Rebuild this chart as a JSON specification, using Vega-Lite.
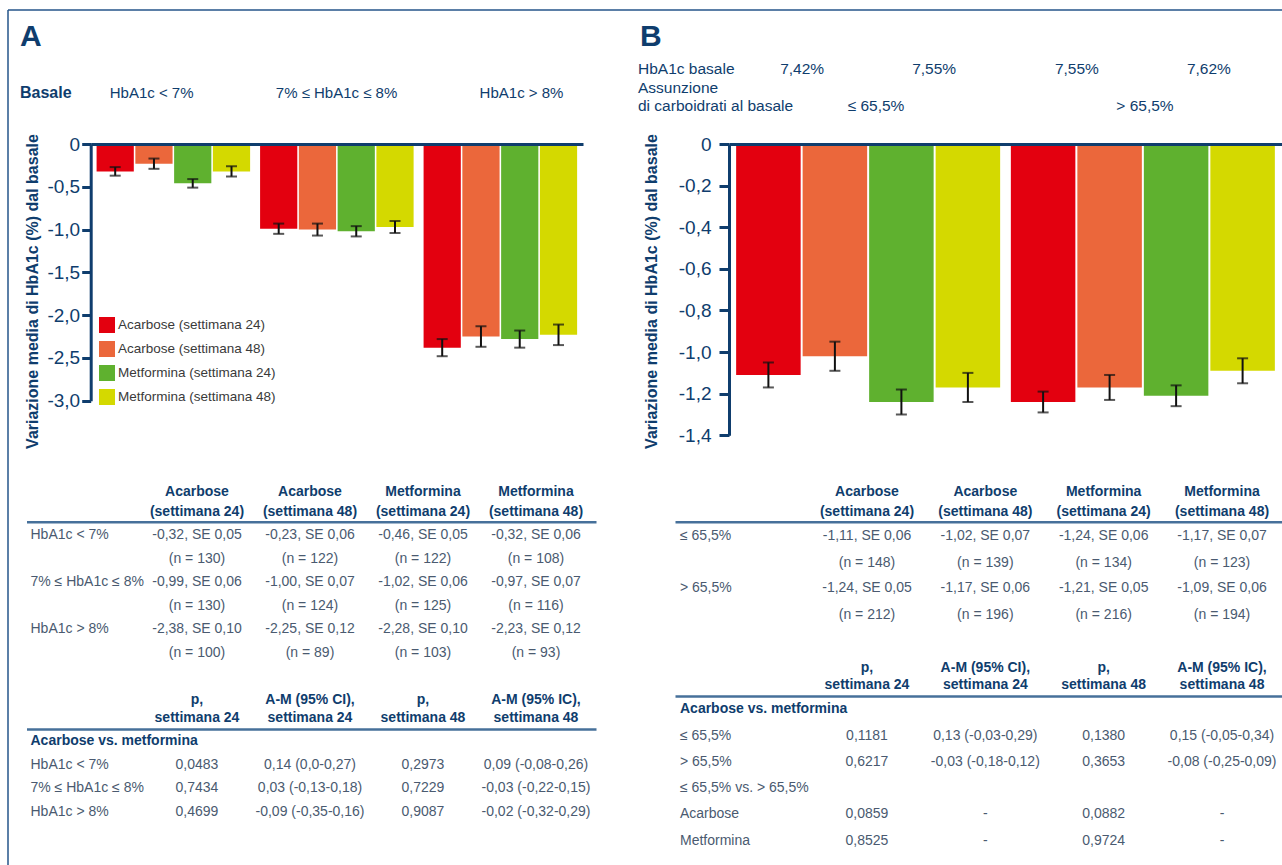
{
  "$schema": "https://vega.github.io/schema/vega-lite/v6.json",
  "width": 1274,
  "height": 855,
  "autosize": {"type": "none"},
  "padding": {"left": 8, "top": 10, "right": 0, "bottom": 0},
  "background": "#ffffff",
  "config": {
    "font": "Liberation Sans, Arial, sans-serif",
    "view": {"stroke": null},
    "text": {"font": "Liberation Sans, Arial, sans-serif", "fontSize": 14, "baseline": "middle"},
    "axis": {"labelFont": "Liberation Sans, Arial, sans-serif", "titleFont": "Liberation Sans, Arial, sans-serif"},
    "legend": {"labelFont": "Liberation Sans, Arial, sans-serif", "titleFont": "Liberation Sans, Arial, sans-serif"}
  },
  "datasets": {
    "barreA": [
      {"fascia": "HbA1c < 7%", "trattamento": "Acarbose (settimana 24)", "media": -0.32, "se": 0.05, "n": 130},
      {"fascia": "HbA1c < 7%", "trattamento": "Acarbose (settimana 48)", "media": -0.23, "se": 0.06, "n": 122},
      {"fascia": "HbA1c < 7%", "trattamento": "Metformina (settimana 24)", "media": -0.46, "se": 0.05, "n": 122},
      {"fascia": "HbA1c < 7%", "trattamento": "Metformina (settimana 48)", "media": -0.32, "se": 0.06, "n": 108},
      {"fascia": "7% ≤ HbA1c ≤ 8%", "trattamento": "Acarbose (settimana 24)", "media": -0.99, "se": 0.06, "n": 130},
      {"fascia": "7% ≤ HbA1c ≤ 8%", "trattamento": "Acarbose (settimana 48)", "media": -1.0, "se": 0.07, "n": 124},
      {"fascia": "7% ≤ HbA1c ≤ 8%", "trattamento": "Metformina (settimana 24)", "media": -1.02, "se": 0.06, "n": 125},
      {"fascia": "7% ≤ HbA1c ≤ 8%", "trattamento": "Metformina (settimana 48)", "media": -0.97, "se": 0.07, "n": 116},
      {"fascia": "HbA1c > 8%", "trattamento": "Acarbose (settimana 24)", "media": -2.38, "se": 0.1, "n": 100},
      {"fascia": "HbA1c > 8%", "trattamento": "Acarbose (settimana 48)", "media": -2.25, "se": 0.12, "n": 89},
      {"fascia": "HbA1c > 8%", "trattamento": "Metformina (settimana 24)", "media": -2.28, "se": 0.1, "n": 103},
      {"fascia": "HbA1c > 8%", "trattamento": "Metformina (settimana 48)", "media": -2.23, "se": 0.12, "n": 93}
    ],
    "barreB": [
      {"carboidrati": "≤ 65,5%", "trattamento": "Acarbose (settimana 24)", "media": -1.11, "se": 0.06, "n": 148},
      {"carboidrati": "≤ 65,5%", "trattamento": "Acarbose (settimana 48)", "media": -1.02, "se": 0.07, "n": 139},
      {"carboidrati": "≤ 65,5%", "trattamento": "Metformina (settimana 24)", "media": -1.24, "se": 0.06, "n": 134},
      {"carboidrati": "≤ 65,5%", "trattamento": "Metformina (settimana 48)", "media": -1.17, "se": 0.07, "n": 123},
      {"carboidrati": "> 65,5%", "trattamento": "Acarbose (settimana 24)", "media": -1.24, "se": 0.05, "n": 212},
      {"carboidrati": "> 65,5%", "trattamento": "Acarbose (settimana 48)", "media": -1.17, "se": 0.06, "n": 196},
      {"carboidrati": "> 65,5%", "trattamento": "Metformina (settimana 24)", "media": -1.21, "se": 0.05, "n": 216},
      {"carboidrati": "> 65,5%", "trattamento": "Metformina (settimana 48)", "media": -1.09, "se": 0.06, "n": 194}
    ],
    "basaleB": [
      {"carboidrati": "≤ 65,5%", "farmaco": "Acarbose", "testo": "7,42%"},
      {"carboidrati": "≤ 65,5%", "farmaco": "Metformina", "testo": "7,55%"},
      {"carboidrati": "> 65,5%", "farmaco": "Acarbose", "testo": "7,55%"},
      {"carboidrati": "> 65,5%", "farmaco": "Metformina", "testo": "7,62%"}
    ],
    "colonneTrattamenti": [
      {"colonna": "Acarbose (settimana 24)", "linea": "1", "testo": "Acarbose"},
      {"colonna": "Acarbose (settimana 24)", "linea": "2", "testo": "(settimana 24)"},
      {"colonna": "Acarbose (settimana 48)", "linea": "1", "testo": "Acarbose"},
      {"colonna": "Acarbose (settimana 48)", "linea": "2", "testo": "(settimana 48)"},
      {"colonna": "Metformina (settimana 24)", "linea": "1", "testo": "Metformina"},
      {"colonna": "Metformina (settimana 24)", "linea": "2", "testo": "(settimana 24)"},
      {"colonna": "Metformina (settimana 48)", "linea": "1", "testo": "Metformina"},
      {"colonna": "Metformina (settimana 48)", "linea": "2", "testo": "(settimana 48)"}
    ],
    "colonneConfronto": [
      {"colonna": "p, settimana 24", "linea": "1", "testo": "p,"},
      {"colonna": "p, settimana 24", "linea": "2", "testo": "settimana 24"},
      {"colonna": "A-M (95% CI), settimana 24", "linea": "1", "testo": "A-M (95% CI),"},
      {"colonna": "A-M (95% CI), settimana 24", "linea": "2", "testo": "settimana 24"},
      {"colonna": "p, settimana 48", "linea": "1", "testo": "p,"},
      {"colonna": "p, settimana 48", "linea": "2", "testo": "settimana 48"},
      {"colonna": "A-M (95% IC), settimana 48", "linea": "1", "testo": "A-M (95% IC),"},
      {"colonna": "A-M (95% IC), settimana 48", "linea": "2", "testo": "settimana 48"}
    ],
    "confrontoA": [
      {"riga": "HbA1c < 7%", "colonna": "p, settimana 24", "testo": "0,0483"},
      {"riga": "HbA1c < 7%", "colonna": "A-M (95% CI), settimana 24", "testo": "0,14 (0,0-0,27)"},
      {"riga": "HbA1c < 7%", "colonna": "p, settimana 48", "testo": "0,2973"},
      {"riga": "HbA1c < 7%", "colonna": "A-M (95% IC), settimana 48", "testo": "0,09 (-0,08-0,26)"},
      {"riga": "7% ≤ HbA1c ≤ 8%", "colonna": "p, settimana 24", "testo": "0,7434"},
      {"riga": "7% ≤ HbA1c ≤ 8%", "colonna": "A-M (95% CI), settimana 24", "testo": "0,03 (-0,13-0,18)"},
      {"riga": "7% ≤ HbA1c ≤ 8%", "colonna": "p, settimana 48", "testo": "0,7229"},
      {"riga": "7% ≤ HbA1c ≤ 8%", "colonna": "A-M (95% IC), settimana 48", "testo": "-0,03 (-0,22-0,15)"},
      {"riga": "HbA1c > 8%", "colonna": "p, settimana 24", "testo": "0,4699"},
      {"riga": "HbA1c > 8%", "colonna": "A-M (95% CI), settimana 24", "testo": "-0,09 (-0,35-0,16)"},
      {"riga": "HbA1c > 8%", "colonna": "p, settimana 48", "testo": "0,9087"},
      {"riga": "HbA1c > 8%", "colonna": "A-M (95% IC), settimana 48", "testo": "-0,02 (-0,32-0,29)"}
    ],
    "confrontoB": [
      {"riga": "≤ 65,5%", "colonna": "p, settimana 24", "testo": "0,1181"},
      {"riga": "≤ 65,5%", "colonna": "A-M (95% CI), settimana 24", "testo": "0,13 (-0,03-0,29)"},
      {"riga": "≤ 65,5%", "colonna": "p, settimana 48", "testo": "0,1380"},
      {"riga": "≤ 65,5%", "colonna": "A-M (95% IC), settimana 48", "testo": "0,15 (-0,05-0,34)"},
      {"riga": "> 65,5%", "colonna": "p, settimana 24", "testo": "0,6217"},
      {"riga": "> 65,5%", "colonna": "A-M (95% CI), settimana 24", "testo": "-0,03 (-0,18-0,12)"},
      {"riga": "> 65,5%", "colonna": "p, settimana 48", "testo": "0,3653"},
      {"riga": "> 65,5%", "colonna": "A-M (95% IC), settimana 48", "testo": "-0,08 (-0,25-0,09)"},
      {"riga": "Acarbose", "colonna": "p, settimana 24", "testo": "0,0859"},
      {"riga": "Acarbose", "colonna": "A-M (95% CI), settimana 24", "testo": "-"},
      {"riga": "Acarbose", "colonna": "p, settimana 48", "testo": "0,0882"},
      {"riga": "Acarbose", "colonna": "A-M (95% IC), settimana 48", "testo": "-"},
      {"riga": "Metformina", "colonna": "p, settimana 24", "testo": "0,8525"},
      {"riga": "Metformina", "colonna": "A-M (95% CI), settimana 24", "testo": "-"},
      {"riga": "Metformina", "colonna": "p, settimana 48", "testo": "0,9724"},
      {"riga": "Metformina", "colonna": "A-M (95% IC), settimana 48", "testo": "-"}
    ]
  },
  "resolve": {
    "scale": {"x": "independent", "y": "independent", "xOffset": "independent", "color": "independent"},
    "axis": {"x": "independent", "y": "independent"},
    "legend": {"color": "independent"}
  },
  "layer": [
    {
      "data": {"values": [{"cornice": "figura"}]},
      "encoding": {
        "x": {"datum": 0, "type": "quantitative", "scale": {"domain": [0, 1], "range": [0, 1274]}, "axis": null},
        "y": {"datum": 0, "type": "quantitative", "scale": {"domain": [0, 1], "range": [0, 855]}, "axis": null}
      },
      "layer": [
        {"mark": {"type": "rule", "color": "#24558a", "strokeWidth": 1.5}, "encoding": {"x2": {"datum": 1}}},
        {"mark": {"type": "rule", "color": "#24558a", "strokeWidth": 1.5}, "encoding": {"y2": {"datum": 1}}}
      ]
    },
    {
      "data": {"values": [{"pannello": "A"}, {"pannello": "B"}]},
      "mark": {"type": "text", "fontSize": 30, "fontWeight": "bold", "color": "#0f3d6d", "align": "left"},
      "encoding": {
        "x": {"field": "pannello", "type": "nominal", "scale": {"type": "point", "domain": ["A", "B"], "range": [12, 632], "padding": 0}, "axis": null},
        "y": {"field": "pannello", "type": "nominal", "scale": {"type": "point", "range": [27, 27], "padding": 0}, "axis": null},
        "text": {"field": "pannello"}
      }
    },
    {
      "data": {"values": [{"voce": "Basale"}]},
      "mark": {"type": "text", "fontSize": 16, "fontWeight": "bold", "color": "#0f3d6d", "align": "left"},
      "encoding": {
        "x": {"field": "voce", "type": "nominal", "scale": {"type": "point", "range": [12, 12], "padding": 0}, "axis": null},
        "y": {"field": "voce", "type": "nominal", "scale": {"type": "point", "range": [82.7, 82.7], "padding": 0}, "axis": null},
        "text": {"field": "voce"}
      }
    },
    {
      "data": {"values": [{"fascia": "HbA1c < 7%"}, {"fascia": "7% ≤ HbA1c ≤ 8%"}, {"fascia": "HbA1c > 8%"}]},
      "mark": {"type": "text", "fontSize": 15, "color": "#0f3d6d"},
      "encoding": {
        "x": {"field": "fascia", "type": "nominal", "scale": {"type": "point", "domain": ["HbA1c < 7%", "7% ≤ HbA1c ≤ 8%", "HbA1c > 8%"], "range": [143.6, 513.5], "padding": 0}, "axis": null},
        "y": {"field": "fascia", "type": "nominal", "scale": {"type": "point", "range": [82.7, 82.7], "padding": 0}, "axis": null},
        "text": {"field": "fascia"}
      }
    },
    {
      "data": {"values": [{"voce": "HbA1c basale"}, {"voce": "Assunzione"}, {"voce": "di carboidrati al basale"}]},
      "mark": {"type": "text", "fontSize": 15.5, "color": "#0f3d6d", "align": "left"},
      "encoding": {
        "x": {"field": "voce", "type": "nominal", "scale": {"type": "point", "range": [630, 630], "padding": 0}, "axis": null},
        "y": {"field": "voce", "type": "nominal", "scale": {"type": "point", "domain": ["HbA1c basale", "Assunzione", "di carboidrati al basale"], "range": [59.3, 96], "padding": 0}, "axis": null},
        "text": {"field": "voce"}
      }
    },
    {
      "data": {"name": "basaleB"},
      "mark": {"type": "text", "fontSize": 15.5, "color": "#0f3d6d"},
      "encoding": {
        "x": {"field": "carboidrati", "type": "nominal", "scale": {"type": "band", "domain": ["≤ 65,5%", "> 65,5%"], "range": [721, 1274], "paddingInner": 0.039, "paddingOuter": 0.026}, "axis": null},
        "xOffset": {"field": "farmaco", "type": "nominal", "scale": {"domain": ["Acarbose", "Metformina"], "paddingInner": 0}},
        "y": {"field": "carboidrati", "type": "nominal", "scale": {"type": "point", "range": [59.3, 59.3], "padding": 0}, "axis": null},
        "text": {"field": "testo"}
      }
    },
    {
      "data": {"values": [{"carboidrati": "≤ 65,5%"}, {"carboidrati": "> 65,5%"}]},
      "mark": {"type": "text", "fontSize": 15.5, "color": "#0f3d6d"},
      "encoding": {
        "x": {"field": "carboidrati", "type": "nominal", "scale": {"type": "point", "domain": ["≤ 65,5%", "> 65,5%"], "range": [868, 1137], "padding": 0}, "axis": null},
        "y": {"field": "carboidrati", "type": "nominal", "scale": {"type": "point", "range": [96, 96], "padding": 0}, "axis": null},
        "text": {"field": "carboidrati"}
      }
    },
    {
      "data": {"name": "barreA"},
      "encoding": {
        "x": {
          "field": "fascia", "type": "nominal",
          "scale": {"type": "band", "domain": ["HbA1c < 7%", "7% ≤ HbA1c ≤ 8%", "HbA1c > 8%"], "range": [82.7, 575], "paddingInner": 0.061, "paddingOuter": 0.036},
          "axis": {"orient": "top", "offset": -134, "labels": false, "ticks": false, "title": null, "grid": false, "domainColor": "#0f3d6d", "domainWidth": 3, "zindex": 1}
        },
        "xOffset": {"field": "trattamento", "type": "nominal", "scale": {"domain": ["Acarbose (settimana 24)", "Acarbose (settimana 48)", "Metformina (settimana 24)", "Metformina (settimana 48)"], "paddingInner": 0.04}},
        "y": {
          "field": "media", "type": "quantitative",
          "scale": {"domain": [-3, 0], "range": [390.7, 134], "nice": false, "zero": false},
          "axis": {
            "orient": "left", "offset": -82.7, "values": [0, -0.5, -1, -1.5, -2, -2.5, -3],
            "labelExpr": "datum.value == 0 ? '0' : replace(replace(format(datum.value, '.1f'), '.', ','), '−', '-')",
            "labelFontSize": 19, "labelColor": "#0f3d6d", "labelPadding": 2,
            "tickSize": 9, "tickWidth": 3, "tickColor": "#0f3d6d",
            "domainColor": "#0f3d6d", "domainWidth": 3, "grid": false, "zindex": 1,
            "title": "Variazione media di HbA1c (%) dal basale",
            "titleFontSize": 16, "titleFontWeight": "bold", "titleColor": "#0f3d6d",
            "titleAngle": -90, "titleBaseline": "bottom", "titleAlign": "center",
            "titleX": -50, "titleY": 281
          }
        }
      },
      "layer": [
        {
          "mark": {"type": "bar"},
          "encoding": {
            "color": {
              "field": "trattamento", "type": "nominal",
              "scale": {"domain": ["Acarbose (settimana 24)", "Acarbose (settimana 48)", "Metformina (settimana 24)", "Metformina (settimana 48)"], "range": ["#e3000f", "#eb673b", "#5fb12f", "#d4d900"]},
              "legend": {
                "orient": "none", "legendX": 91, "legendY": 307, "title": null,
                "symbolType": "square", "symbolSize": 256, "symbolStrokeWidth": 0,
                "labelFontSize": 13.5, "labelColor": "#3a3a3a", "labelOffset": 3, "labelLimit": 300,
                "rowPadding": 8, "padding": 0
              }
            }
          }
        },
        {
          "mark": {"type": "errorbar", "ticks": true, "size": 11, "thickness": 2, "color": "#111111"},
          "encoding": {"yError": {"field": "se"}}
        }
      ]
    },
    {
      "data": {"name": "barreB"},
      "encoding": {
        "x": {
          "field": "carboidrati", "type": "nominal",
          "scale": {"type": "band", "domain": ["≤ 65,5%", "> 65,5%"], "range": [721, 1274], "paddingInner": 0.039, "paddingOuter": 0.026},
          "axis": {"orient": "top", "offset": -134, "labels": false, "ticks": false, "title": null, "grid": false, "domainColor": "#0f3d6d", "domainWidth": 3, "zindex": 1}
        },
        "xOffset": {"field": "trattamento", "type": "nominal", "scale": {"domain": ["Acarbose (settimana 24)", "Acarbose (settimana 48)", "Metformina (settimana 24)", "Metformina (settimana 48)"], "paddingInner": 0.03}},
        "y": {
          "field": "media", "type": "quantitative",
          "scale": {"domain": [-1.4, 0], "range": [425.3, 134], "nice": false, "zero": false},
          "axis": {
            "orient": "left", "offset": -721, "values": [0, -0.2, -0.4, -0.6, -0.8, -1, -1.2, -1.4],
            "labelExpr": "datum.value == 0 ? '0' : replace(replace(format(datum.value, '.1f'), '.', ','), '−', '-')",
            "labelFontSize": 19, "labelColor": "#0f3d6d", "labelPadding": 8,
            "tickSize": 10, "tickWidth": 3, "tickColor": "#0f3d6d",
            "domainColor": "#0f3d6d", "domainWidth": 3, "grid": false, "zindex": 1,
            "title": "Variazione media di HbA1c (%) dal basale",
            "titleFontSize": 16, "titleFontWeight": "bold", "titleColor": "#0f3d6d",
            "titleAngle": -90, "titleBaseline": "bottom", "titleAlign": "center",
            "titleX": -70, "titleY": 281
          }
        }
      },
      "layer": [
        {
          "mark": {"type": "bar"},
          "encoding": {
            "color": {
              "field": "trattamento", "type": "nominal",
              "scale": {"domain": ["Acarbose (settimana 24)", "Acarbose (settimana 48)", "Metformina (settimana 24)", "Metformina (settimana 48)"], "range": ["#e3000f", "#eb673b", "#5fb12f", "#d4d900"]},
              "legend": null
            }
          }
        },
        {
          "mark": {"type": "errorbar", "ticks": true, "size": 11, "thickness": 2, "color": "#111111"},
          "encoding": {"yError": {"field": "se"}}
        }
      ]
    },
    {
      "data": {"name": "colonneTrattamenti"},
      "mark": {"type": "text", "fontWeight": "bold", "color": "#0f3d6d"},
      "encoding": {
        "x": {
          "field": "colonna", "type": "nominal",
          "scale": {"type": "band", "domain": ["voce", "Acarbose (settimana 24)", "Acarbose (settimana 48)", "Metformina (settimana 24)", "Metformina (settimana 48)"], "range": [18.5, 588], "paddingInner": 0, "paddingOuter": 0.02, "align": 0.22},
          "axis": {"orient": "top", "offset": -511.7, "labels": false, "ticks": false, "title": null, "grid": false, "domainColor": "#46709a", "domainWidth": 2.5}
        },
        "y": {"field": "linea", "type": "nominal", "scale": {"type": "point", "domain": ["1", "2"], "range": [481.7, 501.7], "padding": 0}, "axis": null},
        "text": {"field": "testo"}
      }
    },
    {
      "data": {"name": "barreA"},
      "transform": [
        {"calculate": "replace(replace(format(datum.media, '.2f'), '.', ','), '−', '-') + ', SE ' + replace(format(datum.se, '.2f'), '.', ',')", "as": "valore"},
        {"calculate": "'(n = ' + datum.n + ')'", "as": "numerosita"}
      ],
      "encoding": {
        "x": {
          "field": "trattamento", "type": "nominal",
          "scale": {"type": "band", "domain": ["voce", "Acarbose (settimana 24)", "Acarbose (settimana 48)", "Metformina (settimana 24)", "Metformina (settimana 48)"], "range": [18.5, 588], "paddingInner": 0, "paddingOuter": 0.02, "align": 0.22},
          "axis": null
        },
        "y": {"field": "fascia", "type": "nominal", "scale": {"type": "point", "domain": ["HbA1c < 7%", "7% ≤ HbA1c ≤ 8%", "HbA1c > 8%"], "range": [525, 619.3], "padding": 0}, "axis": null}
      },
      "layer": [
        {"mark": {"type": "text", "color": "#4a5a70"}, "encoding": {"text": {"field": "valore"}}},
        {"mark": {"type": "text", "color": "#4a5a70", "dy": 24}, "encoding": {"text": {"field": "numerosita"}}},
        {
          "data": {"values": [{"fascia": "HbA1c < 7%"}, {"fascia": "7% ≤ HbA1c ≤ 8%"}, {"fascia": "HbA1c > 8%"}]},
          "mark": {"type": "text", "color": "#4a5a70", "align": "left", "dx": 3},
          "encoding": {"x": {"datum": "voce", "type": "nominal", "bandPosition": 0}, "text": {"field": "fascia"}}
        }
      ]
    },
    {
      "data": {"name": "colonneConfronto"},
      "mark": {"type": "text", "fontWeight": "bold", "color": "#0f3d6d"},
      "encoding": {
        "x": {
          "field": "colonna", "type": "nominal",
          "scale": {"type": "band", "domain": ["voce", "p, settimana 24", "A-M (95% CI), settimana 24", "p, settimana 48", "A-M (95% IC), settimana 48"], "range": [18.5, 588], "paddingInner": 0, "paddingOuter": 0.02, "align": 0.22},
          "axis": {"orient": "top", "offset": -719, "labels": false, "ticks": false, "title": null, "grid": false, "domainColor": "#46709a", "domainWidth": 2.5}
        },
        "y": {"field": "linea", "type": "nominal", "scale": {"type": "point", "domain": ["1", "2"], "range": [690, 708], "padding": 0}, "axis": null},
        "text": {"field": "testo"}
      }
    },
    {
      "data": {"name": "confrontoA"},
      "encoding": {
        "x": {
          "field": "colonna", "type": "nominal",
          "scale": {"type": "band", "domain": ["voce", "p, settimana 24", "A-M (95% CI), settimana 24", "p, settimana 48", "A-M (95% IC), settimana 48"], "range": [18.5, 588], "paddingInner": 0, "paddingOuter": 0.02, "align": 0.22},
          "axis": null
        },
        "y": {"field": "riga", "type": "nominal", "scale": {"type": "point", "domain": ["Acarbose vs. metformina", "HbA1c < 7%", "7% ≤ HbA1c ≤ 8%", "HbA1c > 8%"], "range": [731, 801.7], "padding": 0}, "axis": null}
      },
      "layer": [
        {"mark": {"type": "text", "color": "#4a5a70"}, "encoding": {"text": {"field": "testo"}}},
        {
          "data": {"values": [{"riga": "HbA1c < 7%"}, {"riga": "7% ≤ HbA1c ≤ 8%"}, {"riga": "HbA1c > 8%"}]},
          "mark": {"type": "text", "color": "#4a5a70", "align": "left", "dx": 3},
          "encoding": {"x": {"datum": "voce", "type": "nominal", "bandPosition": 0}, "text": {"field": "riga"}}
        },
        {
          "data": {"values": [{"riga": "Acarbose vs. metformina"}]},
          "mark": {"type": "text", "color": "#0f3d6d", "fontWeight": "bold", "align": "left", "dx": 3},
          "encoding": {"x": {"datum": "voce", "type": "nominal", "bandPosition": 0}, "text": {"field": "riga"}}
        }
      ]
    },
    {
      "data": {"name": "colonneTrattamenti"},
      "mark": {"type": "text", "fontWeight": "bold", "color": "#0f3d6d"},
      "encoding": {
        "x": {
          "field": "colonna", "type": "nominal",
          "scale": {"type": "band", "domain": ["voce", "Acarbose (settimana 24)", "Acarbose (settimana 48)", "Metformina (settimana 24)", "Metformina (settimana 48)"], "range": [667, 1280], "paddingInner": 0, "paddingOuter": 0.09, "align": 0.68},
          "axis": {"orient": "top", "offset": -511.7, "labels": false, "ticks": false, "title": null, "grid": false, "domainColor": "#46709a", "domainWidth": 2.5}
        },
        "y": {"field": "linea", "type": "nominal", "scale": {"type": "point", "domain": ["1", "2"], "range": [481.7, 501.7], "padding": 0}, "axis": null},
        "text": {"field": "testo"}
      }
    },
    {
      "data": {"name": "barreB"},
      "transform": [
        {"calculate": "replace(replace(format(datum.media, '.2f'), '.', ','), '−', '-') + ', SE ' + replace(format(datum.se, '.2f'), '.', ',')", "as": "valore"},
        {"calculate": "'(n = ' + datum.n + ')'", "as": "numerosita"}
      ],
      "encoding": {
        "x": {
          "field": "trattamento", "type": "nominal",
          "scale": {"type": "band", "domain": ["voce", "Acarbose (settimana 24)", "Acarbose (settimana 48)", "Metformina (settimana 24)", "Metformina (settimana 48)"], "range": [667, 1280], "paddingInner": 0, "paddingOuter": 0.09, "align": 0.68},
          "axis": null
        },
        "y": {"field": "carboidrati", "type": "nominal", "scale": {"type": "point", "domain": ["≤ 65,5%", "> 65,5%"], "range": [525.7, 578.3], "padding": 0}, "axis": null}
      },
      "layer": [
        {"mark": {"type": "text", "color": "#4a5a70"}, "encoding": {"text": {"field": "valore"}}},
        {"mark": {"type": "text", "color": "#4a5a70", "dy": 27}, "encoding": {"text": {"field": "numerosita"}}},
        {
          "data": {"values": [{"carboidrati": "≤ 65,5%"}, {"carboidrati": "> 65,5%"}]},
          "mark": {"type": "text", "color": "#4a5a70", "align": "left", "dx": -9.5},
          "encoding": {"x": {"datum": "voce", "type": "nominal", "bandPosition": 0}, "text": {"field": "carboidrati"}}
        }
      ]
    },
    {
      "data": {"name": "colonneConfronto"},
      "mark": {"type": "text", "fontWeight": "bold", "color": "#0f3d6d"},
      "encoding": {
        "x": {
          "field": "colonna", "type": "nominal",
          "scale": {"type": "band", "domain": ["voce", "p, settimana 24", "A-M (95% CI), settimana 24", "p, settimana 48", "A-M (95% IC), settimana 48"], "range": [667, 1280], "paddingInner": 0, "paddingOuter": 0.09, "align": 0.68},
          "axis": {"orient": "top", "offset": -686, "labels": false, "ticks": false, "title": null, "grid": false, "domainColor": "#46709a", "domainWidth": 2.5}
        },
        "y": {"field": "linea", "type": "nominal", "scale": {"type": "point", "domain": ["1", "2"], "range": [658.3, 675], "padding": 0}, "axis": null},
        "text": {"field": "testo"}
      }
    },
    {
      "data": {"name": "confrontoB"},
      "encoding": {
        "x": {
          "field": "colonna", "type": "nominal",
          "scale": {"type": "band", "domain": ["voce", "p, settimana 24", "A-M (95% CI), settimana 24", "p, settimana 48", "A-M (95% IC), settimana 48"], "range": [667, 1280], "paddingInner": 0, "paddingOuter": 0.09, "align": 0.68},
          "axis": null
        },
        "y": {"field": "riga", "type": "nominal", "scale": {"type": "point", "domain": ["Acarbose vs. metformina", "≤ 65,5%", "> 65,5%", "≤ 65,5% vs. > 65,5%", "Acarbose", "Metformina"], "range": [699.3, 830.7], "padding": 0}, "axis": null}
      },
      "layer": [
        {"mark": {"type": "text", "color": "#4a5a70"}, "encoding": {"text": {"field": "testo"}}},
        {
          "data": {"values": [{"riga": "≤ 65,5%"}, {"riga": "> 65,5%"}, {"riga": "≤ 65,5% vs. > 65,5%"}, {"riga": "Acarbose"}, {"riga": "Metformina"}]},
          "mark": {"type": "text", "color": "#4a5a70", "align": "left", "dx": -9.5},
          "encoding": {"x": {"datum": "voce", "type": "nominal", "bandPosition": 0}, "text": {"field": "riga"}}
        },
        {
          "data": {"values": [{"riga": "Acarbose vs. metformina"}]},
          "mark": {"type": "text", "color": "#0f3d6d", "fontWeight": "bold", "align": "left", "dx": -9.5},
          "encoding": {"x": {"datum": "voce", "type": "nominal", "bandPosition": 0}, "text": {"field": "riga"}}
        }
      ]
    }
  ]
}
